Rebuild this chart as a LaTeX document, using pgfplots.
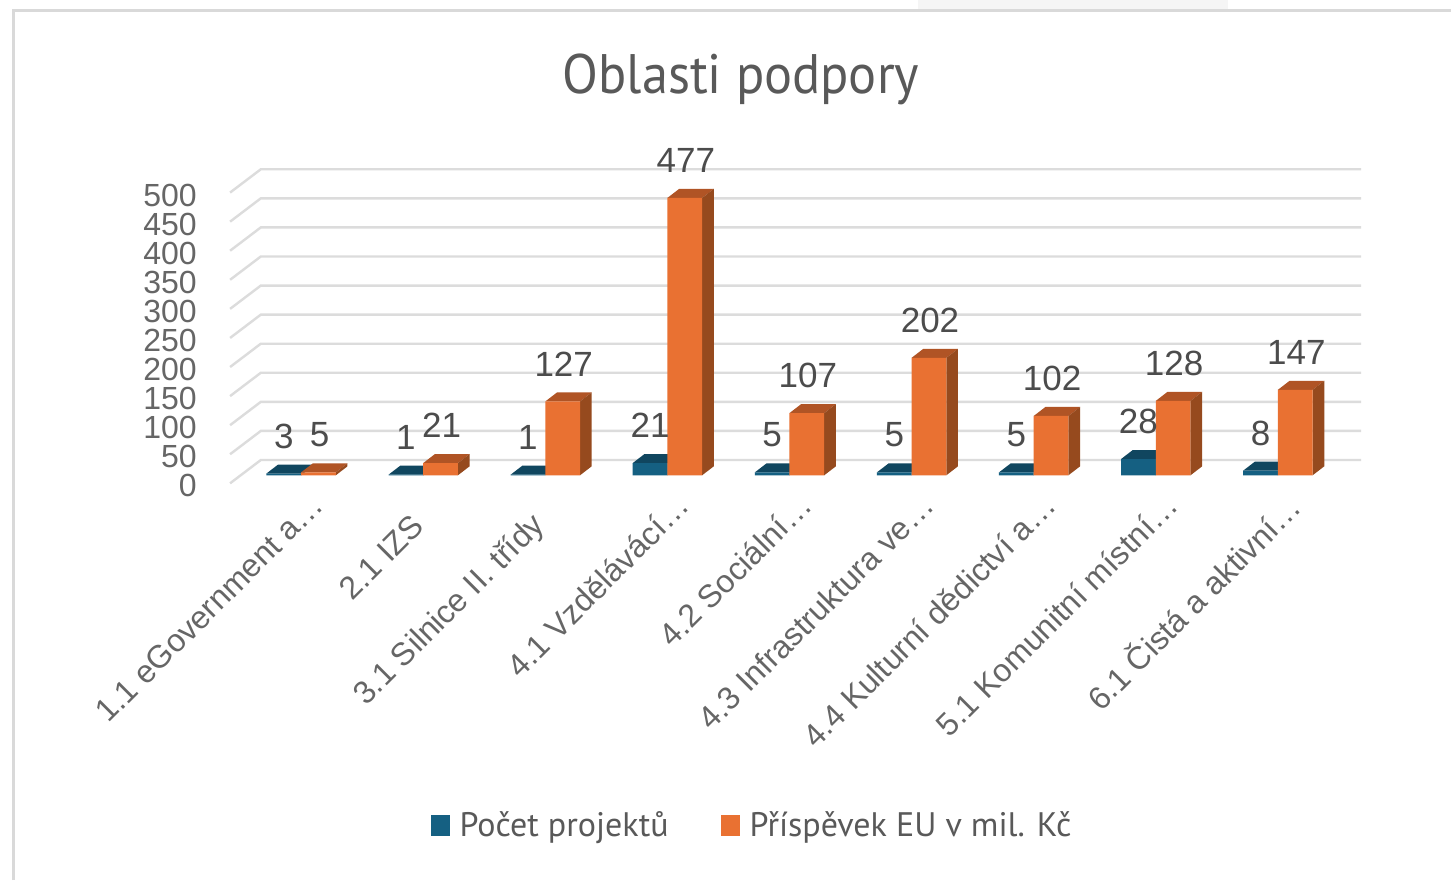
\documentclass[border=0pt]{standalone}
\usepackage{fontspec}
\setmainfont{Liberation Sans}
\newfontfamily\titlefont{PT Sans}
\usepackage{pgfplots}
\usepackage{pgfplotstable}
\pgfplotsset{compat=1.18}

\definecolor{bluefront}{HTML}{156082}
\definecolor{bluetop}{HTML}{10465F}
\definecolor{orangefront}{HTML}{E97132}
\definecolor{orangetop}{HTML}{B05425}
\definecolor{orangeside}{HTML}{964A1E}
\definecolor{gridc}{HTML}{DCDCDC}

\pgfplotstableread{
cat pocet eu
0 3 5
1 1 21
2 1 127
3 21 477
4 5 107
5 5 202
6 5 102
7 28 128
8 8 147
}\projdata

% top and side face of one bar: position, -1 or 0 for the slot, value, colours
\newcommand{\extrude}[5]{%
  \pgfmathsetmacro\xl{#1+#2*0.2842}%
  \pgfmathsetmacro\xr{\xl+0.2842}%
  \pgfmathsetmacro\xld{\xl+0.0958}%
  \pgfmathsetmacro\xrd{\xr+0.0958}%
  \pgfmathsetmacro\yt{#3+15.5}%
  \edef\faces{%
    \noexpand\addplot[forget plot,draw=none,fill=#4] coordinates {(\xl,#3)(\xr,#3)(\xrd,\yt)(\xld,\yt)} -- cycle;
    \noexpand\addplot[forget plot,draw=none,fill=#5] coordinates {(\xr,0)(\xrd,15.5)(\xrd,\yt)(\xr,#3)} -- cycle;
  }%
  \faces
}

\begin{document}
\begin{tikzpicture}
\useasboundingbox (0,0) rectangle (725.5pt,440pt);
\fill[white] (0,0) rectangle (725.5pt,440pt);
% window frame of the screenshot
\fill[gray!8] (459pt,440pt) -- (459pt,435pt) -- (614pt,435pt) -- (614pt,440pt) -- cycle;
\draw[gray!30,line width=1.5pt] (6.5pt,0) -- (6.5pt,434.5pt) -- (725.5pt,434.5pt);

\begin{axis}[
  at={(120.025pt,202.35pt)}, anchor=south west,
  scale only axis,
  width=549.45pt, height=145.375pt,
  xmin=-0.5, xmax=8.5, ymin=0, ymax=500,
  clip=false,
  axis line style={draw=none},
  major tick length=0pt,
  /pgf/number format/assume math mode=true,
  ytick={0,50,...,500},
  yticklabel style={font=\fontsize{16}{16}\selectfont, text=black!60, inner sep=0pt, xshift=-21.5pt, yshift=-5.3pt},
  xtick={0,...,8},
  xticklabels={1.1 eGovernment a…,2.1 IZS\hspace*{15pt},3.1 Silnice II. třídy\hspace*{15pt},4.1 Vzdělávácí…,4.2 Sociální…,4.3 Infrastruktura ve…,4.4 Kulturní dědictví a…,5.1 Komunitní místní…,6.1 Čistá a aktivní…},
  xticklabel style={font=\fontsize{16}{16}\selectfont, text=black!60, rotate=45, anchor=east, inner sep=0pt, xshift=-2.8pt, yshift=-14.3pt},
  every node near coord/.append style={font=\fontsize{17.5}{17.5}\selectfont, text=black!70, anchor=center, yshift=18.7pt, inner sep=0pt},
  legend columns=2,
  legend image code/.code={\fill[#1] (0pt,-5pt) rectangle (9.5pt,5.5pt);},
  legend style={at={(axis description cs:0.173,-1.206)}, anchor=west, draw=none, fill=none, inner sep=0pt,
    font=\titlefont\fontsize{17}{17}\selectfont, text=black!65,
    /tikz/every even column/.append style={column sep=24pt}},
]
% floor-to-wall grid lines
\pgfplotsinvokeforeach{0,50,...,500}{%
  \pgfmathsetmacro\ya{#1-13.76}%
  \pgfmathsetmacro\yb{#1+26.3}%
  \edef\gridline{\noexpand\addplot[forget plot,gridc,line width=1.2pt] coordinates {(-0.5815,\ya)(-0.33,\yb)(8.681,\yb)};}%
  \gridline
}
% depth faces, behind the front faces
\pgfplotsforeachungrouped \i in {0,...,8}{%
  \pgfplotstablegetelem{\i}{pocet}\of\projdata
  \let\val\pgfplotsretval
  \extrude{\i}{-1}{\val}{bluetop}{bluetop}%
}
\pgfplotsforeachungrouped \i in {0,...,8}{%
  \pgfplotstablegetelem{\i}{eu}\of\projdata
  \let\val\pgfplotsretval
  \extrude{\i}{0}{\val}{orangetop}{orangeside}%
}
\addplot[ybar, bar width=17.35pt, bar shift=-8.675pt, draw=none, fill=bluefront, nodes near coords,
  nodes near coords style={xshift=-8.675pt}] table[x=cat,y=pocet] {\projdata};
\addlegendentry{\hspace*{3pt}Počet projektů}
\addplot[ybar, bar width=17.35pt, bar shift=8.675pt, draw=none, fill=orangefront, nodes near coords,
  nodes near coords style={xshift=9.2pt}] table[x=cat,y=eu] {\projdata};
\addlegendentry{\hspace*{3pt}Příspěvek EU v mil. Kč}
\end{axis}

\node[inner sep=0pt, text=black!65] at (370.5pt,400.5pt) {\scalebox{0.97}[1.03]{\titlefont\fontsize{27}{27}\selectfont Oblasti podpory}};
\end{tikzpicture}
\end{document}
